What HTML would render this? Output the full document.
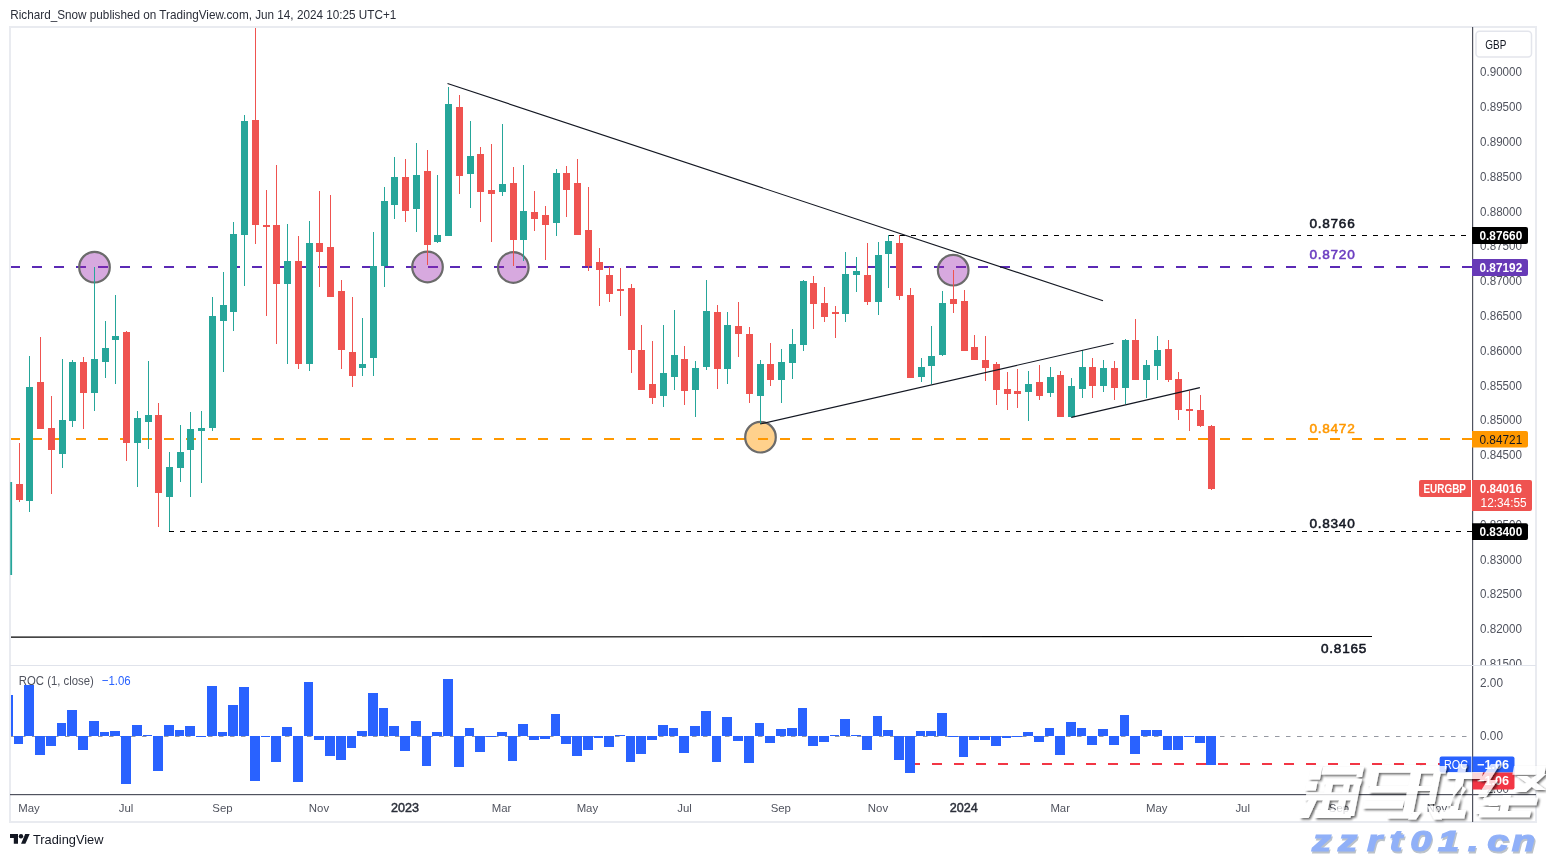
<!DOCTYPE html>
<html><head><meta charset="utf-8"><style>
html,body{margin:0;padding:0;background:#fff;width:1546px;height:857px;overflow:hidden}
svg{display:block;will-change:transform}
text{font-family:"Liberation Sans",sans-serif}
</style></head><body>
<svg width="1546" height="857" viewBox="0 0 1546 857" font-family="Liberation Sans, sans-serif">
<rect width="1546" height="857" fill="#ffffff"/>
<text x="10.3" y="18.8" font-size="12.6" fill="#2a2e39" font-weight="normal" text-anchor="start" textLength="386" lengthAdjust="spacingAndGlyphs" >Richard_Snow published on TradingView.com, Jun 14, 2024 10:25 UTC+1</text>
<rect x="10" y="27" width="1526" height="795" fill="none" stroke="#e9ebf0" stroke-width="2"/>
<defs><clipPath id="mp"><rect x="11" y="28" width="1461" height="637"/></clipPath><clipPath id="rp"><rect x="11" y="666" width="1461" height="128"/></clipPath></defs>
<g clip-path="url(#mp)">
<line x1="10" y1="267" x2="1472" y2="267" stroke="#5b2ab5" stroke-width="2" stroke-dasharray="10 12"/>
<line x1="10" y1="439" x2="1472" y2="439" stroke="#ff9800" stroke-width="2" stroke-dasharray="10 12"/>
<line x1="889" y1="235.5" x2="1472" y2="235.5" stroke="#000" stroke-width="1.1" stroke-dasharray="5 6"/>
<line x1="169" y1="531.5" x2="1472" y2="531.5" stroke="#000" stroke-width="1.1" stroke-dasharray="5 6"/>
<line x1="10" y1="637.1" x2="1372" y2="636.5" stroke="#000" stroke-width="1.15"/>
<circle cx="94.5" cy="267.2" r="15.3" fill="rgba(156,39,176,0.4)" stroke="#6b6b6b" stroke-width="2.2"/>
<circle cx="427.5" cy="267" r="15.3" fill="rgba(156,39,176,0.4)" stroke="#6b6b6b" stroke-width="2.2"/>
<circle cx="513.3" cy="267.5" r="15.3" fill="rgba(156,39,176,0.4)" stroke="#6b6b6b" stroke-width="2.2"/>
<circle cx="953.2" cy="270.2" r="15.3" fill="rgba(156,39,176,0.4)" stroke="#6b6b6b" stroke-width="2.2"/>
<circle cx="760.5" cy="437.2" r="15.3" fill="rgba(255,152,0,0.45)" stroke="#6b6b6b" stroke-width="2.2"/>
<rect x="19" y="443" width="1" height="59" fill="#ef5350"/>
<rect x="16" y="484" width="7" height="16" fill="#ef5350"/>
<rect x="29" y="356" width="1" height="156" fill="#26a69a"/>
<rect x="26" y="387" width="7" height="114" fill="#26a69a"/>
<rect x="40" y="337" width="1" height="92" fill="#ef5350"/>
<rect x="37" y="382" width="7" height="47" fill="#ef5350"/>
<rect x="51" y="396" width="1" height="98" fill="#ef5350"/>
<rect x="48" y="428" width="7" height="22" fill="#ef5350"/>
<rect x="62" y="359" width="1" height="109" fill="#26a69a"/>
<rect x="59" y="420" width="7" height="34" fill="#26a69a"/>
<rect x="72" y="360" width="1" height="67" fill="#26a69a"/>
<rect x="69" y="362" width="7" height="59" fill="#26a69a"/>
<rect x="83" y="357" width="1" height="72" fill="#ef5350"/>
<rect x="80" y="362" width="7" height="31" fill="#ef5350"/>
<rect x="94" y="267" width="1" height="144" fill="#26a69a"/>
<rect x="91" y="359" width="7" height="34" fill="#26a69a"/>
<rect x="105" y="321" width="1" height="57" fill="#26a69a"/>
<rect x="102" y="348" width="7" height="14" fill="#26a69a"/>
<rect x="115" y="295" width="1" height="89" fill="#26a69a"/>
<rect x="112" y="336" width="7" height="4" fill="#26a69a"/>
<rect x="126" y="331" width="1" height="130" fill="#ef5350"/>
<rect x="123" y="332" width="7" height="111" fill="#ef5350"/>
<rect x="137" y="411" width="1" height="76" fill="#26a69a"/>
<rect x="134" y="418" width="7" height="25" fill="#26a69a"/>
<rect x="148" y="361" width="1" height="88" fill="#26a69a"/>
<rect x="145" y="415" width="7" height="7" fill="#26a69a"/>
<rect x="158" y="403" width="1" height="124" fill="#ef5350"/>
<rect x="155" y="415" width="7" height="78" fill="#ef5350"/>
<rect x="169" y="452" width="1" height="79" fill="#26a69a"/>
<rect x="166" y="467" width="7" height="30" fill="#26a69a"/>
<rect x="180" y="425" width="1" height="57" fill="#26a69a"/>
<rect x="177" y="452" width="7" height="16" fill="#26a69a"/>
<rect x="190" y="412" width="1" height="85" fill="#26a69a"/>
<rect x="187" y="429" width="7" height="21" fill="#26a69a"/>
<rect x="201" y="411" width="1" height="72" fill="#26a69a"/>
<rect x="198" y="428" width="7" height="3" fill="#26a69a"/>
<rect x="212" y="297" width="1" height="134" fill="#26a69a"/>
<rect x="209" y="316" width="7" height="112" fill="#26a69a"/>
<rect x="223" y="272" width="1" height="100" fill="#26a69a"/>
<rect x="220" y="305" width="7" height="16" fill="#26a69a"/>
<rect x="233" y="222" width="1" height="109" fill="#26a69a"/>
<rect x="230" y="234" width="7" height="78" fill="#26a69a"/>
<rect x="244" y="115" width="1" height="171" fill="#26a69a"/>
<rect x="241" y="121" width="7" height="114" fill="#26a69a"/>
<rect x="255" y="28" width="1" height="216" fill="#ef5350"/>
<rect x="252" y="120" width="7" height="105" fill="#ef5350"/>
<rect x="266" y="190" width="1" height="126" fill="#ef5350"/>
<rect x="263" y="225" width="7" height="2" fill="#ef5350"/>
<rect x="276" y="165" width="1" height="179" fill="#ef5350"/>
<rect x="273" y="225" width="7" height="59" fill="#ef5350"/>
<rect x="287" y="224" width="1" height="140" fill="#26a69a"/>
<rect x="284" y="261" width="7" height="23" fill="#26a69a"/>
<rect x="298" y="236" width="1" height="133" fill="#ef5350"/>
<rect x="295" y="261" width="7" height="103" fill="#ef5350"/>
<rect x="309" y="221" width="1" height="150" fill="#26a69a"/>
<rect x="306" y="243" width="7" height="121" fill="#26a69a"/>
<rect x="319" y="191" width="1" height="96" fill="#ef5350"/>
<rect x="316" y="243" width="7" height="9" fill="#ef5350"/>
<rect x="330" y="195" width="1" height="102" fill="#ef5350"/>
<rect x="327" y="247" width="7" height="50" fill="#ef5350"/>
<rect x="341" y="280" width="1" height="89" fill="#ef5350"/>
<rect x="338" y="291" width="7" height="59" fill="#ef5350"/>
<rect x="352" y="297" width="1" height="90" fill="#ef5350"/>
<rect x="349" y="352" width="7" height="24" fill="#ef5350"/>
<rect x="362" y="318" width="1" height="58" fill="#26a69a"/>
<rect x="359" y="364" width="7" height="4" fill="#26a69a"/>
<rect x="373" y="232" width="1" height="144" fill="#26a69a"/>
<rect x="370" y="266" width="7" height="92" fill="#26a69a"/>
<rect x="384" y="187" width="1" height="100" fill="#26a69a"/>
<rect x="381" y="201" width="7" height="65" fill="#26a69a"/>
<rect x="394" y="157" width="1" height="62" fill="#26a69a"/>
<rect x="391" y="177" width="7" height="28" fill="#26a69a"/>
<rect x="405" y="159" width="1" height="63" fill="#ef5350"/>
<rect x="402" y="177" width="7" height="34" fill="#ef5350"/>
<rect x="416" y="143" width="1" height="89" fill="#26a69a"/>
<rect x="413" y="175" width="7" height="34" fill="#26a69a"/>
<rect x="427" y="150" width="1" height="115" fill="#ef5350"/>
<rect x="424" y="171" width="7" height="74" fill="#ef5350"/>
<rect x="437" y="175" width="1" height="68" fill="#26a69a"/>
<rect x="434" y="235" width="7" height="7" fill="#26a69a"/>
<rect x="448" y="87" width="1" height="149" fill="#26a69a"/>
<rect x="445" y="104" width="7" height="132" fill="#26a69a"/>
<rect x="459" y="95" width="1" height="99" fill="#ef5350"/>
<rect x="456" y="107" width="7" height="69" fill="#ef5350"/>
<rect x="470" y="121" width="1" height="87" fill="#26a69a"/>
<rect x="467" y="156" width="7" height="18" fill="#26a69a"/>
<rect x="480" y="147" width="1" height="75" fill="#ef5350"/>
<rect x="477" y="154" width="7" height="38" fill="#ef5350"/>
<rect x="491" y="144" width="1" height="98" fill="#ef5350"/>
<rect x="488" y="190" width="7" height="4" fill="#ef5350"/>
<rect x="502" y="124" width="1" height="72" fill="#26a69a"/>
<rect x="499" y="184" width="7" height="8" fill="#26a69a"/>
<rect x="513" y="167" width="1" height="99" fill="#ef5350"/>
<rect x="510" y="183" width="7" height="57" fill="#ef5350"/>
<rect x="523" y="165" width="1" height="96" fill="#26a69a"/>
<rect x="520" y="211" width="7" height="29" fill="#26a69a"/>
<rect x="534" y="191" width="1" height="40" fill="#ef5350"/>
<rect x="531" y="212" width="7" height="7" fill="#ef5350"/>
<rect x="545" y="206" width="1" height="54" fill="#ef5350"/>
<rect x="542" y="215" width="7" height="10" fill="#ef5350"/>
<rect x="556" y="169" width="1" height="67" fill="#26a69a"/>
<rect x="553" y="173" width="7" height="50" fill="#26a69a"/>
<rect x="566" y="166" width="1" height="51" fill="#ef5350"/>
<rect x="563" y="173" width="7" height="17" fill="#ef5350"/>
<rect x="577" y="159" width="1" height="76" fill="#ef5350"/>
<rect x="574" y="183" width="7" height="52" fill="#ef5350"/>
<rect x="588" y="187" width="1" height="84" fill="#ef5350"/>
<rect x="585" y="230" width="7" height="36" fill="#ef5350"/>
<rect x="599" y="248" width="1" height="58" fill="#ef5350"/>
<rect x="596" y="262" width="7" height="8" fill="#ef5350"/>
<rect x="609" y="267" width="1" height="35" fill="#ef5350"/>
<rect x="606" y="275" width="7" height="19" fill="#ef5350"/>
<rect x="620" y="268" width="1" height="48" fill="#ef5350"/>
<rect x="617" y="289" width="7" height="2" fill="#ef5350"/>
<rect x="631" y="284" width="1" height="89" fill="#ef5350"/>
<rect x="628" y="288" width="7" height="62" fill="#ef5350"/>
<rect x="641" y="325" width="1" height="65" fill="#ef5350"/>
<rect x="638" y="350" width="7" height="40" fill="#ef5350"/>
<rect x="652" y="341" width="1" height="63" fill="#ef5350"/>
<rect x="649" y="384" width="7" height="14" fill="#ef5350"/>
<rect x="663" y="325" width="1" height="82" fill="#26a69a"/>
<rect x="660" y="373" width="7" height="23" fill="#26a69a"/>
<rect x="674" y="310" width="1" height="80" fill="#26a69a"/>
<rect x="671" y="355" width="7" height="22" fill="#26a69a"/>
<rect x="684" y="346" width="1" height="59" fill="#ef5350"/>
<rect x="681" y="359" width="7" height="32" fill="#ef5350"/>
<rect x="695" y="361" width="1" height="56" fill="#26a69a"/>
<rect x="692" y="368" width="7" height="22" fill="#26a69a"/>
<rect x="706" y="280" width="1" height="90" fill="#26a69a"/>
<rect x="703" y="311" width="7" height="56" fill="#26a69a"/>
<rect x="717" y="305" width="1" height="84" fill="#ef5350"/>
<rect x="714" y="312" width="7" height="57" fill="#ef5350"/>
<rect x="727" y="312" width="1" height="72" fill="#26a69a"/>
<rect x="724" y="325" width="7" height="44" fill="#26a69a"/>
<rect x="738" y="302" width="1" height="55" fill="#ef5350"/>
<rect x="735" y="326" width="7" height="8" fill="#ef5350"/>
<rect x="749" y="327" width="1" height="76" fill="#ef5350"/>
<rect x="746" y="334" width="7" height="60" fill="#ef5350"/>
<rect x="760" y="360" width="1" height="64" fill="#26a69a"/>
<rect x="757" y="364" width="7" height="32" fill="#26a69a"/>
<rect x="770" y="343" width="1" height="43" fill="#ef5350"/>
<rect x="767" y="364" width="7" height="16" fill="#ef5350"/>
<rect x="781" y="349" width="1" height="54" fill="#26a69a"/>
<rect x="778" y="362" width="7" height="18" fill="#26a69a"/>
<rect x="792" y="329" width="1" height="50" fill="#26a69a"/>
<rect x="789" y="344" width="7" height="19" fill="#26a69a"/>
<rect x="803" y="280" width="1" height="71" fill="#26a69a"/>
<rect x="800" y="281" width="7" height="64" fill="#26a69a"/>
<rect x="813" y="276" width="1" height="53" fill="#ef5350"/>
<rect x="810" y="283" width="7" height="21" fill="#ef5350"/>
<rect x="824" y="287" width="1" height="35" fill="#ef5350"/>
<rect x="821" y="303" width="7" height="14" fill="#ef5350"/>
<rect x="835" y="306" width="1" height="32" fill="#ef5350"/>
<rect x="832" y="312" width="7" height="2" fill="#ef5350"/>
<rect x="845" y="252" width="1" height="70" fill="#26a69a"/>
<rect x="842" y="274" width="7" height="40" fill="#26a69a"/>
<rect x="856" y="257" width="1" height="35" fill="#26a69a"/>
<rect x="853" y="271" width="7" height="4" fill="#26a69a"/>
<rect x="867" y="243" width="1" height="62" fill="#ef5350"/>
<rect x="864" y="275" width="7" height="27" fill="#ef5350"/>
<rect x="878" y="242" width="1" height="73" fill="#26a69a"/>
<rect x="875" y="255" width="7" height="47" fill="#26a69a"/>
<rect x="888" y="235" width="1" height="53" fill="#26a69a"/>
<rect x="885" y="241" width="7" height="13" fill="#26a69a"/>
<rect x="899" y="235" width="1" height="65" fill="#ef5350"/>
<rect x="896" y="243" width="7" height="53" fill="#ef5350"/>
<rect x="910" y="288" width="1" height="90" fill="#ef5350"/>
<rect x="907" y="295" width="7" height="83" fill="#ef5350"/>
<rect x="921" y="358" width="1" height="24" fill="#26a69a"/>
<rect x="918" y="367" width="7" height="10" fill="#26a69a"/>
<rect x="931" y="326" width="1" height="58" fill="#26a69a"/>
<rect x="928" y="356" width="7" height="10" fill="#26a69a"/>
<rect x="942" y="291" width="1" height="65" fill="#26a69a"/>
<rect x="939" y="303" width="7" height="52" fill="#26a69a"/>
<rect x="953" y="270" width="1" height="43" fill="#ef5350"/>
<rect x="950" y="299" width="7" height="5" fill="#ef5350"/>
<rect x="964" y="290" width="1" height="61" fill="#ef5350"/>
<rect x="961" y="301" width="7" height="50" fill="#ef5350"/>
<rect x="974" y="335" width="1" height="25" fill="#ef5350"/>
<rect x="971" y="347" width="7" height="13" fill="#ef5350"/>
<rect x="985" y="336" width="1" height="45" fill="#ef5350"/>
<rect x="982" y="360" width="7" height="8" fill="#ef5350"/>
<rect x="996" y="362" width="1" height="43" fill="#ef5350"/>
<rect x="993" y="364" width="7" height="26" fill="#ef5350"/>
<rect x="1007" y="372" width="1" height="38" fill="#ef5350"/>
<rect x="1004" y="389" width="7" height="5" fill="#ef5350"/>
<rect x="1017" y="369" width="1" height="39" fill="#ef5350"/>
<rect x="1014" y="391" width="7" height="3" fill="#ef5350"/>
<rect x="1028" y="371" width="1" height="50" fill="#26a69a"/>
<rect x="1025" y="384" width="7" height="8" fill="#26a69a"/>
<rect x="1039" y="365" width="1" height="35" fill="#ef5350"/>
<rect x="1036" y="382" width="7" height="14" fill="#ef5350"/>
<rect x="1050" y="367" width="1" height="30" fill="#26a69a"/>
<rect x="1047" y="377" width="7" height="16" fill="#26a69a"/>
<rect x="1060" y="371" width="1" height="46" fill="#ef5350"/>
<rect x="1057" y="375" width="7" height="42" fill="#ef5350"/>
<rect x="1071" y="378" width="1" height="40" fill="#26a69a"/>
<rect x="1068" y="386" width="7" height="31" fill="#26a69a"/>
<rect x="1082" y="350" width="1" height="48" fill="#26a69a"/>
<rect x="1079" y="367" width="7" height="22" fill="#26a69a"/>
<rect x="1092" y="358" width="1" height="40" fill="#ef5350"/>
<rect x="1089" y="367" width="7" height="19" fill="#ef5350"/>
<rect x="1103" y="360" width="1" height="32" fill="#26a69a"/>
<rect x="1100" y="368" width="7" height="18" fill="#26a69a"/>
<rect x="1114" y="361" width="1" height="39" fill="#ef5350"/>
<rect x="1111" y="368" width="7" height="20" fill="#ef5350"/>
<rect x="1125" y="339" width="1" height="65" fill="#26a69a"/>
<rect x="1122" y="340" width="7" height="48" fill="#26a69a"/>
<rect x="1135" y="319" width="1" height="61" fill="#ef5350"/>
<rect x="1132" y="340" width="7" height="40" fill="#ef5350"/>
<rect x="1146" y="360" width="1" height="38" fill="#26a69a"/>
<rect x="1143" y="365" width="7" height="15" fill="#26a69a"/>
<rect x="1157" y="336" width="1" height="44" fill="#26a69a"/>
<rect x="1154" y="350" width="7" height="16" fill="#26a69a"/>
<rect x="1168" y="340" width="1" height="42" fill="#ef5350"/>
<rect x="1165" y="349" width="7" height="31" fill="#ef5350"/>
<rect x="1178" y="372" width="1" height="48" fill="#ef5350"/>
<rect x="1175" y="379" width="7" height="31" fill="#ef5350"/>
<rect x="1189" y="391" width="1" height="40" fill="#ef5350"/>
<rect x="1186" y="409" width="7" height="2" fill="#ef5350"/>
<rect x="1200" y="395" width="1" height="32" fill="#ef5350"/>
<rect x="1197" y="410" width="7" height="16" fill="#ef5350"/>
<rect x="1211" y="425" width="1" height="65" fill="#ef5350"/>
<rect x="1208" y="426" width="7" height="63" fill="#ef5350"/>
<line x1="447.5" y1="83.5" x2="1103" y2="300.8" stroke="#131722" stroke-width="1.15"/>
<line x1="760.2" y1="424" x2="1113.5" y2="343.2" stroke="#131722" stroke-width="1.15"/>
<line x1="1071.5" y1="417.4" x2="1199.9" y2="387.6" stroke="#131722" stroke-width="1.15"/>
</g>
<rect x="10.3" y="482" width="1.8" height="93" fill="#26a69a"/>
<text x="1309.4" y="227.8" font-size="13.6" fill="#131722" stroke="#131722" stroke-width="0.55" textLength="45.3" lengthAdjust="spacing">0.8766</text>
<text x="1309.4" y="259.1" font-size="13.6" fill="#6a3cc0" stroke="#6a3cc0" stroke-width="0.55" textLength="45.3" lengthAdjust="spacing">0.8720</text>
<text x="1309.4" y="433.2" font-size="13.6" fill="#ff9800" stroke="#ff9800" stroke-width="0.55" textLength="45.3" lengthAdjust="spacing">0.8472</text>
<text x="1309.4" y="527.8" font-size="13.6" fill="#131722" stroke="#131722" stroke-width="0.55" textLength="45.3" lengthAdjust="spacing">0.8340</text>
<text x="1321" y="653.1" font-size="13.6" fill="#131722" stroke="#131722" stroke-width="0.55" textLength="45.3" lengthAdjust="spacing">0.8165</text>
<g clip-path="url(#rp)">
<line x1="10" y1="736.5" x2="1472" y2="736.5" stroke="#9598a1" stroke-width="1" stroke-dasharray="4.5 6.5"/>
<line x1="910" y1="764" x2="1472" y2="764" stroke="#f23645" stroke-width="2" stroke-dasharray="10 12"/>
<rect x="10" y="695" width="3" height="41" fill="#2962ff"/>
<rect x="14" y="736" width="9" height="8" fill="#2962ff"/>
<rect x="24" y="685" width="10" height="51" fill="#2962ff"/>
<rect x="35" y="736" width="10" height="19" fill="#2962ff"/>
<rect x="46" y="736" width="10" height="10" fill="#2962ff"/>
<rect x="57" y="723" width="9" height="13" fill="#2962ff"/>
<rect x="67" y="710" width="10" height="26" fill="#2962ff"/>
<rect x="78" y="736" width="10" height="14" fill="#2962ff"/>
<rect x="89" y="721" width="10" height="15" fill="#2962ff"/>
<rect x="100" y="732" width="9" height="4" fill="#2962ff"/>
<rect x="110" y="731" width="10" height="5" fill="#2962ff"/>
<rect x="121" y="736" width="10" height="48" fill="#2962ff"/>
<rect x="132" y="725" width="10" height="11" fill="#2962ff"/>
<rect x="143" y="735" width="9" height="1" fill="#2962ff"/>
<rect x="153" y="736" width="10" height="35" fill="#2962ff"/>
<rect x="164" y="725" width="10" height="11" fill="#2962ff"/>
<rect x="175" y="730" width="9" height="6" fill="#2962ff"/>
<rect x="185" y="726" width="10" height="10" fill="#2962ff"/>
<rect x="196" y="736" width="10" height="1" fill="#2962ff"/>
<rect x="207" y="686" width="10" height="50" fill="#2962ff"/>
<rect x="218" y="732" width="9" height="4" fill="#2962ff"/>
<rect x="228" y="705" width="10" height="31" fill="#2962ff"/>
<rect x="239" y="687" width="10" height="49" fill="#2962ff"/>
<rect x="250" y="736" width="10" height="45" fill="#2962ff"/>
<rect x="261" y="736" width="9" height="1" fill="#2962ff"/>
<rect x="271" y="736" width="10" height="26" fill="#2962ff"/>
<rect x="282" y="727" width="10" height="9" fill="#2962ff"/>
<rect x="293" y="736" width="10" height="46" fill="#2962ff"/>
<rect x="304" y="682" width="9" height="54" fill="#2962ff"/>
<rect x="314" y="736" width="10" height="4" fill="#2962ff"/>
<rect x="325" y="736" width="10" height="20" fill="#2962ff"/>
<rect x="336" y="736" width="10" height="24" fill="#2962ff"/>
<rect x="347" y="736" width="9" height="12" fill="#2962ff"/>
<rect x="357" y="731" width="10" height="5" fill="#2962ff"/>
<rect x="368" y="693" width="10" height="43" fill="#2962ff"/>
<rect x="379" y="708" width="9" height="28" fill="#2962ff"/>
<rect x="389" y="726" width="10" height="10" fill="#2962ff"/>
<rect x="400" y="736" width="10" height="15" fill="#2962ff"/>
<rect x="411" y="721" width="10" height="15" fill="#2962ff"/>
<rect x="422" y="736" width="9" height="30" fill="#2962ff"/>
<rect x="432" y="732" width="10" height="4" fill="#2962ff"/>
<rect x="443" y="679" width="10" height="57" fill="#2962ff"/>
<rect x="454" y="736" width="10" height="31" fill="#2962ff"/>
<rect x="465" y="728" width="9" height="8" fill="#2962ff"/>
<rect x="475" y="736" width="10" height="16" fill="#2962ff"/>
<rect x="486" y="736" width="10" height="1" fill="#2962ff"/>
<rect x="497" y="732" width="10" height="4" fill="#2962ff"/>
<rect x="508" y="736" width="9" height="25" fill="#2962ff"/>
<rect x="518" y="724" width="10" height="12" fill="#2962ff"/>
<rect x="529" y="736" width="10" height="4" fill="#2962ff"/>
<rect x="540" y="736" width="10" height="3" fill="#2962ff"/>
<rect x="551" y="714" width="9" height="22" fill="#2962ff"/>
<rect x="561" y="736" width="10" height="8" fill="#2962ff"/>
<rect x="572" y="736" width="10" height="20" fill="#2962ff"/>
<rect x="583" y="736" width="10" height="14" fill="#2962ff"/>
<rect x="594" y="736" width="9" height="2" fill="#2962ff"/>
<rect x="604" y="736" width="10" height="11" fill="#2962ff"/>
<rect x="615" y="735" width="10" height="1" fill="#2962ff"/>
<rect x="626" y="736" width="9" height="26" fill="#2962ff"/>
<rect x="636" y="736" width="10" height="18" fill="#2962ff"/>
<rect x="647" y="736" width="10" height="4" fill="#2962ff"/>
<rect x="658" y="725" width="10" height="11" fill="#2962ff"/>
<rect x="669" y="728" width="9" height="8" fill="#2962ff"/>
<rect x="679" y="736" width="10" height="17" fill="#2962ff"/>
<rect x="690" y="726" width="10" height="10" fill="#2962ff"/>
<rect x="701" y="711" width="10" height="25" fill="#2962ff"/>
<rect x="712" y="736" width="9" height="26" fill="#2962ff"/>
<rect x="722" y="717" width="10" height="19" fill="#2962ff"/>
<rect x="733" y="736" width="10" height="5" fill="#2962ff"/>
<rect x="744" y="736" width="10" height="27" fill="#2962ff"/>
<rect x="755" y="723" width="9" height="13" fill="#2962ff"/>
<rect x="765" y="736" width="10" height="7" fill="#2962ff"/>
<rect x="776" y="729" width="10" height="7" fill="#2962ff"/>
<rect x="787" y="728" width="10" height="8" fill="#2962ff"/>
<rect x="798" y="708" width="9" height="28" fill="#2962ff"/>
<rect x="808" y="736" width="10" height="10" fill="#2962ff"/>
<rect x="819" y="736" width="10" height="6" fill="#2962ff"/>
<rect x="830" y="735" width="9" height="1" fill="#2962ff"/>
<rect x="840" y="719" width="10" height="17" fill="#2962ff"/>
<rect x="851" y="735" width="10" height="1" fill="#2962ff"/>
<rect x="862" y="736" width="10" height="14" fill="#2962ff"/>
<rect x="873" y="716" width="9" height="20" fill="#2962ff"/>
<rect x="883" y="730" width="10" height="6" fill="#2962ff"/>
<rect x="894" y="736" width="10" height="24" fill="#2962ff"/>
<rect x="905" y="736" width="10" height="37" fill="#2962ff"/>
<rect x="916" y="731" width="9" height="5" fill="#2962ff"/>
<rect x="926" y="731" width="10" height="5" fill="#2962ff"/>
<rect x="937" y="713" width="10" height="23" fill="#2962ff"/>
<rect x="948" y="736" width="10" height="1" fill="#2962ff"/>
<rect x="959" y="736" width="9" height="21" fill="#2962ff"/>
<rect x="969" y="736" width="10" height="4" fill="#2962ff"/>
<rect x="980" y="736" width="10" height="4" fill="#2962ff"/>
<rect x="991" y="736" width="10" height="10" fill="#2962ff"/>
<rect x="1002" y="736" width="9" height="2" fill="#2962ff"/>
<rect x="1012" y="736" width="10" height="1" fill="#2962ff"/>
<rect x="1023" y="732" width="10" height="4" fill="#2962ff"/>
<rect x="1034" y="736" width="10" height="6" fill="#2962ff"/>
<rect x="1045" y="728" width="9" height="8" fill="#2962ff"/>
<rect x="1055" y="736" width="10" height="19" fill="#2962ff"/>
<rect x="1066" y="722" width="10" height="14" fill="#2962ff"/>
<rect x="1077" y="728" width="9" height="8" fill="#2962ff"/>
<rect x="1087" y="736" width="10" height="9" fill="#2962ff"/>
<rect x="1098" y="729" width="10" height="7" fill="#2962ff"/>
<rect x="1109" y="736" width="10" height="9" fill="#2962ff"/>
<rect x="1120" y="715" width="9" height="21" fill="#2962ff"/>
<rect x="1130" y="736" width="10" height="18" fill="#2962ff"/>
<rect x="1141" y="730" width="10" height="6" fill="#2962ff"/>
<rect x="1152" y="730" width="10" height="6" fill="#2962ff"/>
<rect x="1163" y="736" width="9" height="14" fill="#2962ff"/>
<rect x="1173" y="736" width="10" height="14" fill="#2962ff"/>
<rect x="1184" y="736" width="10" height="1" fill="#2962ff"/>
<rect x="1195" y="736" width="10" height="7" fill="#2962ff"/>
<rect x="1206" y="736" width="10" height="29" fill="#2962ff"/>
</g>
<text x="18.8" y="685" font-size="12.8" fill="#50535e" font-weight="normal" text-anchor="start" textLength="75" lengthAdjust="spacingAndGlyphs" >ROC (1, close)</text>
<text x="101.7" y="685" font-size="12.8" fill="#2962ff" font-weight="normal" text-anchor="start" textLength="29" lengthAdjust="spacingAndGlyphs" >−1.06</text>
<rect x="10" y="794" width="1526" height="1.2" fill="#50535e"/>
<rect x="1472" y="27" width="1.2" height="795" fill="#50535e"/>
<rect x="10" y="665" width="1526" height="1" fill="#e0e3eb"/>
<defs><clipPath id="pa"><rect x="1473" y="27" width="63" height="638"/></clipPath></defs><g clip-path="url(#pa)">
<text x="1480" y="76.3" font-size="12" fill="#50535e" font-weight="normal" text-anchor="start" textLength="42" lengthAdjust="spacingAndGlyphs" >0.90000</text>
<text x="1480" y="111.1" font-size="12" fill="#50535e" font-weight="normal" text-anchor="start" textLength="42" lengthAdjust="spacingAndGlyphs" >0.89500</text>
<text x="1480" y="145.9" font-size="12" fill="#50535e" font-weight="normal" text-anchor="start" textLength="42" lengthAdjust="spacingAndGlyphs" >0.89000</text>
<text x="1480" y="180.7" font-size="12" fill="#50535e" font-weight="normal" text-anchor="start" textLength="42" lengthAdjust="spacingAndGlyphs" >0.88500</text>
<text x="1480" y="215.5" font-size="12" fill="#50535e" font-weight="normal" text-anchor="start" textLength="42" lengthAdjust="spacingAndGlyphs" >0.88000</text>
<text x="1480" y="250.3" font-size="12" fill="#50535e" font-weight="normal" text-anchor="start" textLength="42" lengthAdjust="spacingAndGlyphs" >0.87500</text>
<text x="1480" y="285.09999999999997" font-size="12" fill="#50535e" font-weight="normal" text-anchor="start" textLength="42" lengthAdjust="spacingAndGlyphs" >0.87000</text>
<text x="1480" y="319.9" font-size="12" fill="#50535e" font-weight="normal" text-anchor="start" textLength="42" lengthAdjust="spacingAndGlyphs" >0.86500</text>
<text x="1480" y="354.7" font-size="12" fill="#50535e" font-weight="normal" text-anchor="start" textLength="42" lengthAdjust="spacingAndGlyphs" >0.86000</text>
<text x="1480" y="389.5" font-size="12" fill="#50535e" font-weight="normal" text-anchor="start" textLength="42" lengthAdjust="spacingAndGlyphs" >0.85500</text>
<text x="1480" y="424.3" font-size="12" fill="#50535e" font-weight="normal" text-anchor="start" textLength="42" lengthAdjust="spacingAndGlyphs" >0.85000</text>
<text x="1480" y="459.09999999999997" font-size="12" fill="#50535e" font-weight="normal" text-anchor="start" textLength="42" lengthAdjust="spacingAndGlyphs" >0.84500</text>
<text x="1480" y="493.9" font-size="12" fill="#50535e" font-weight="normal" text-anchor="start" textLength="42" lengthAdjust="spacingAndGlyphs" >0.84000</text>
<text x="1480" y="528.6999999999999" font-size="12" fill="#50535e" font-weight="normal" text-anchor="start" textLength="42" lengthAdjust="spacingAndGlyphs" >0.83500</text>
<text x="1480" y="563.4999999999999" font-size="12" fill="#50535e" font-weight="normal" text-anchor="start" textLength="42" lengthAdjust="spacingAndGlyphs" >0.83000</text>
<text x="1480" y="598.3" font-size="12" fill="#50535e" font-weight="normal" text-anchor="start" textLength="42" lengthAdjust="spacingAndGlyphs" >0.82500</text>
<text x="1480" y="633.0999999999999" font-size="12" fill="#50535e" font-weight="normal" text-anchor="start" textLength="42" lengthAdjust="spacingAndGlyphs" >0.82000</text>
<text x="1480" y="667.8999999999999" font-size="12" fill="#50535e" font-weight="normal" text-anchor="start" textLength="42" lengthAdjust="spacingAndGlyphs" >0.81500</text>
</g>
<text x="1480" y="686.6" font-size="12" fill="#50535e" font-weight="normal" text-anchor="start" textLength="23" lengthAdjust="spacingAndGlyphs" >2.00</text>
<text x="1480" y="739.8" font-size="12" fill="#50535e" font-weight="normal" text-anchor="start" textLength="23" lengthAdjust="spacingAndGlyphs" >0.00</text>
<text x="1480" y="793" font-size="12" fill="#50535e" font-weight="normal" text-anchor="start" textLength="29" lengthAdjust="spacingAndGlyphs" >−2.00</text>
<rect x="1476" y="31.2" width="55.5" height="25.8" rx="3.5" fill="#fff" stroke="#e3e5ec" stroke-width="1.5"/>
<text x="1485.3" y="49" font-size="12" fill="#131722" font-weight="normal" text-anchor="start" textLength="21" lengthAdjust="spacingAndGlyphs" >GBP</text>
<path d="M1472 227 H1526 Q1528 227 1528 229 V242 Q1528 244 1526 244 H1472 Z" fill="#000000"/>
<text x="1479.5" y="239.9" font-size="12.5" fill="#fff" font-weight="bold" text-anchor="start" textLength="42.7" lengthAdjust="spacingAndGlyphs" >0.87660</text>
<path d="M1472 259 H1526 Q1528 259 1528 261 V274 Q1528 276 1526 276 H1472 Z" fill="#673ab7"/>
<text x="1479.5" y="271.9" font-size="12.5" fill="#fff" font-weight="bold" text-anchor="start" textLength="42.7" lengthAdjust="spacingAndGlyphs" >0.87192</text>
<path d="M1472 431 H1526 Q1528 431 1528 433 V445.5 Q1528 447.5 1526 447.5 H1472 Z" fill="#ff9800"/>
<text x="1479.5" y="443.65" font-size="12.5" fill="#131722" font-weight="normal" text-anchor="start" textLength="42.7" lengthAdjust="spacingAndGlyphs" >0.84721</text>
<path d="M1472 523.3 H1526 Q1528 523.3 1528 525.3 V538 Q1528 540 1526 540 H1472 Z" fill="#000000"/>
<text x="1479.5" y="536.05" font-size="12.5" fill="#fff" font-weight="bold" text-anchor="start" textLength="42.7" lengthAdjust="spacingAndGlyphs" >0.83400</text>
<path d="M1472 480 H1530 Q1532 480 1532 482 V509 Q1532 511 1530 511 H1472 Z" fill="#ef5350"/>
<text x="1479.8" y="492.9" font-size="12.5" fill="#fff" font-weight="bold" text-anchor="start" textLength="42.1" lengthAdjust="spacingAndGlyphs" >0.84016</text>
<text x="1480.6" y="507" font-size="12.5" fill="#fff" font-weight="normal" text-anchor="start" textLength="46" lengthAdjust="spacingAndGlyphs" >12:34:55</text>
<path d="M1471 480 H1421 Q1419 480 1419 482 V495 Q1419 497 1421 497 H1471 Z" fill="#ef5350"/>
<text x="1423.5" y="492.9" font-size="12" fill="#fff" font-weight="bold" text-anchor="start" textLength="42.4" lengthAdjust="spacingAndGlyphs" >EURGBP</text>
<path d="M1439.6 756.6 H1471.4 V772.5 H1441.6 Q1439.6 772.5 1439.6 770.5 V758.6 Q1439.6 756.6 1441.6 756.6 Z" fill="#2962ff"/>
<text x="1444" y="768.6" font-size="12" fill="#fff" font-weight="normal" text-anchor="start" textLength="24" lengthAdjust="spacingAndGlyphs" >ROC</text>
<path d="M1472.5 756.6 H1512.5 Q1514.5 756.6 1514.5 758.6 V772.5 H1472.5 Z" fill="#2962ff"/>
<text x="1477" y="768.6" font-size="12.5" fill="#fff" font-weight="bold" text-anchor="start" textLength="32" lengthAdjust="spacingAndGlyphs" >−1.06</text>
<path d="M1472.5 772.5 H1514.5 V787.4 Q1514.5 789.4 1512.5 789.4 H1472.5 Z" fill="#f23645"/>
<text x="1477" y="785" font-size="12.5" fill="#fff" font-weight="bold" text-anchor="start" textLength="32" lengthAdjust="spacingAndGlyphs" >−1.06</text>
<text x="29" y="811.8" font-size="11.4" fill="#50535e" font-weight="normal" text-anchor="middle" >May</text>
<text x="126" y="811.8" font-size="11.4" fill="#50535e" font-weight="normal" text-anchor="middle" >Jul</text>
<text x="222.5" y="811.8" font-size="11.4" fill="#50535e" font-weight="normal" text-anchor="middle" >Sep</text>
<text x="319" y="811.8" font-size="11.4" fill="#50535e" font-weight="normal" text-anchor="middle" >Nov</text>
<text x="405" y="811.8" font-size="12.6" fill="#2a2e39" stroke="#2a2e39" stroke-width="0.45" text-anchor="middle">2023</text>
<text x="501.5" y="811.8" font-size="11.4" fill="#50535e" font-weight="normal" text-anchor="middle" >Mar</text>
<text x="587.4" y="811.8" font-size="11.4" fill="#50535e" font-weight="normal" text-anchor="middle" >May</text>
<text x="684.5" y="811.8" font-size="11.4" fill="#50535e" font-weight="normal" text-anchor="middle" >Jul</text>
<text x="780.8" y="811.8" font-size="11.4" fill="#50535e" font-weight="normal" text-anchor="middle" >Sep</text>
<text x="878" y="811.8" font-size="11.4" fill="#50535e" font-weight="normal" text-anchor="middle" >Nov</text>
<text x="963.7" y="811.8" font-size="12.6" fill="#2a2e39" stroke="#2a2e39" stroke-width="0.45" text-anchor="middle">2024</text>
<text x="1060.2" y="811.8" font-size="11.4" fill="#50535e" font-weight="normal" text-anchor="middle" >Mar</text>
<text x="1156.8" y="811.8" font-size="11.4" fill="#50535e" font-weight="normal" text-anchor="middle" >May</text>
<text x="1242.7" y="811.8" font-size="11.4" fill="#50535e" font-weight="normal" text-anchor="middle" >Jul</text>
<text x="1339" y="811.8" font-size="11.4" fill="#50535e" font-weight="normal" text-anchor="middle" >Sep</text>
<text x="1437" y="811.8" font-size="11.4" fill="#50535e" font-weight="normal" text-anchor="middle" >Nov</text>
<path d="M10 834 H18 V843.7 H13.8 V838 H10 Z" fill="#131722"/>
<circle cx="21" cy="836.3" r="2.2" fill="#131722"/>
<path d="M25.2 834 H29.7 L25.4 843.7 H21.1 Z" fill="#131722"/>
<text x="33" y="843.7" font-size="12.8" fill="#131722" font-weight="normal" text-anchor="start" textLength="70.5" lengthAdjust="spacingAndGlyphs" >TradingView</text>
<defs><filter id="ds" x="-5%" y="-20%" width="110%" height="140%"><feDropShadow dx="1.8" dy="1.6" stdDeviation="0.9" flood-color="#000" flood-opacity="0.75"/></filter></defs>
<g filter="url(#ds)" opacity="0.8"><path fill="#ffffff" d="M1311.0 766.5L1322.5 766.5L1319.9 779.5L1308.4 779.5Z M1306.5 781.7L1317.5 781.7L1315.8 790.4L1304.8 790.4Z M1310 797.6 L1318 797.6 L1308.6 818 L1299 818Z M1323.0 767L1364.0 767L1362.5 774.5L1321.5 774.5Z M1325.0 779L1362.0 779L1360.9 784.5L1323.9 784.5Z M1357.0 774.5L1362.5 774.5L1362.0 777L1356.5 777Z M1355.0 779L1361.5 779L1354.1 816L1347.6 816Z M1326.0 784L1333.0 784L1327.4 812L1320.4 812Z M1306.5 792.6L1358.0 792.6L1356.5 800.2L1305.0 800.2Z M1316.0 810L1352.0 810L1350.4 818L1314.4 818Z M1344.0 784L1350.0 784L1348.3 792.6L1342.3 792.6Z M1339.0 800L1346.0 800L1344.0 810L1337.0 810Z M1374.0 765L1420.0 765L1418.5 772.7L1372.5 772.7Z M1371.0 772L1379.0 772L1376.2 786L1368.2 786Z M1370.0 786L1412.0 786L1410.7 792.5L1368.7 792.5Z M1411.0 772L1419.5 772L1411.3 813L1402.8 813Z M1364.0 801L1404.0 801L1402.5 808.5L1362.5 808.5Z M1388.0 812.5L1412.0 812.5L1410.8 818.6L1386.8 818.6Z M1416.0 766L1447.0 766L1445.5 773.5L1414.5 773.5Z M1414.0 772L1421.5 772L1413.3 813L1405.8 813Z M1434.0 772L1441.0 772L1434.6 804L1427.6 804Z M1418.0 786L1438.0 786L1437.0 791L1417.0 791Z M1413 812 L1421 812 L1416 819.5 L1408 819.5Z M1427 806 L1435 806 L1442 819.5 L1434 819.5Z M1448.0 772L1483.0 772L1481.6 779L1446.6 779Z M1459.0 764L1467.0 764L1456.6 816L1448.6 816Z M1440.0 810L1466.0 810L1464.3 818.5L1438.3 818.5Z M1446 806 L1454 806 L1466 789 L1462 786Z M1491 764 L1500 764 L1490 780 L1498 780 L1486 797 L1477 797 L1487 781 L1479 781Z M1477.0 807L1499.0 807L1497.6 814L1475.6 814Z M1483 798 L1492 798 L1498 806 L1489 806Z M1514.0 766L1546.0 766L1544.3 774.7L1512.3 774.7Z M1538 774 L1546 774 L1526 792 L1514 792Z M1517 776 L1527 776 L1546 790 L1536 790Z M1484.0 797.5L1538.0 797.5L1536.4 805.3L1482.4 805.3Z M1503.0 795L1511.0 795L1507.6 812L1499.6 812Z M1480.0 811L1531.0 811L1529.7 817.3L1478.7 817.3Z"/></g>
<g opacity="1">
<g transform="translate(1322.7,852.5) scale(1.28,1)"><text x="0" y="0" font-size="30" font-weight="bold" font-style="italic" text-anchor="middle" fill="#6a7a8a" opacity="0.45" stroke="#6a7a8a" stroke-width="1.2">z</text></g>
<g transform="translate(1321.5,851.3) scale(1.28,1)"><text x="0" y="0" font-size="30" font-weight="bold" font-style="italic" text-anchor="middle" fill="#90b0f8" stroke="#90b0f8" stroke-width="1.2">z</text></g>
<g transform="translate(1348.7,852.5) scale(1.28,1)"><text x="0" y="0" font-size="30" font-weight="bold" font-style="italic" text-anchor="middle" fill="#6a7a8a" opacity="0.45" stroke="#6a7a8a" stroke-width="1.2">z</text></g>
<g transform="translate(1347.5,851.3) scale(1.28,1)"><text x="0" y="0" font-size="30" font-weight="bold" font-style="italic" text-anchor="middle" fill="#90b0f8" stroke="#90b0f8" stroke-width="1.2">z</text></g>
<g transform="translate(1375.6000000000001,852.5) scale(1.28,1)"><text x="0" y="0" font-size="30" font-weight="bold" font-style="italic" text-anchor="middle" fill="#6a7a8a" opacity="0.45" stroke="#6a7a8a" stroke-width="1.2">r</text></g>
<g transform="translate(1374.4,851.3) scale(1.28,1)"><text x="0" y="0" font-size="30" font-weight="bold" font-style="italic" text-anchor="middle" fill="#90b0f8" stroke="#90b0f8" stroke-width="1.2">r</text></g>
<g transform="translate(1397.2,852.5) scale(1.28,1)"><text x="0" y="0" font-size="30" font-weight="bold" font-style="italic" text-anchor="middle" fill="#6a7a8a" opacity="0.45" stroke="#6a7a8a" stroke-width="1.2">t</text></g>
<g transform="translate(1396,851.3) scale(1.28,1)"><text x="0" y="0" font-size="30" font-weight="bold" font-style="italic" text-anchor="middle" fill="#90b0f8" stroke="#90b0f8" stroke-width="1.2">t</text></g>
<g transform="translate(1422.0,852.5) scale(1.28,1)"><text x="0" y="0" font-size="30" font-weight="bold" font-style="italic" text-anchor="middle" fill="#6a7a8a" opacity="0.45" stroke="#6a7a8a" stroke-width="1.2">0</text></g>
<g transform="translate(1420.8,851.3) scale(1.28,1)"><text x="0" y="0" font-size="30" font-weight="bold" font-style="italic" text-anchor="middle" fill="#90b0f8" stroke="#90b0f8" stroke-width="1.2">0</text></g>
<g transform="translate(1449.6000000000001,852.5) scale(1.28,1)"><text x="0" y="0" font-size="30" font-weight="bold" font-style="italic" text-anchor="middle" fill="#6a7a8a" opacity="0.45" stroke="#6a7a8a" stroke-width="1.2">1</text></g>
<g transform="translate(1448.4,851.3) scale(1.28,1)"><text x="0" y="0" font-size="30" font-weight="bold" font-style="italic" text-anchor="middle" fill="#90b0f8" stroke="#90b0f8" stroke-width="1.2">1</text></g>
<g transform="translate(1474.2,852.5) scale(1.28,1)"><text x="0" y="0" font-size="30" font-weight="bold" font-style="italic" text-anchor="middle" fill="#6a7a8a" opacity="0.45" stroke="#6a7a8a" stroke-width="1.2">.</text></g>
<g transform="translate(1473,851.3) scale(1.28,1)"><text x="0" y="0" font-size="30" font-weight="bold" font-style="italic" text-anchor="middle" fill="#90b0f8" stroke="#90b0f8" stroke-width="1.2">.</text></g>
<g transform="translate(1499.0,852.5) scale(1.28,1)"><text x="0" y="0" font-size="30" font-weight="bold" font-style="italic" text-anchor="middle" fill="#6a7a8a" opacity="0.45" stroke="#6a7a8a" stroke-width="1.2">c</text></g>
<g transform="translate(1497.8,851.3) scale(1.28,1)"><text x="0" y="0" font-size="30" font-weight="bold" font-style="italic" text-anchor="middle" fill="#90b0f8" stroke="#90b0f8" stroke-width="1.2">c</text></g>
<g transform="translate(1524.6000000000001,852.5) scale(1.28,1)"><text x="0" y="0" font-size="30" font-weight="bold" font-style="italic" text-anchor="middle" fill="#6a7a8a" opacity="0.45" stroke="#6a7a8a" stroke-width="1.2">n</text></g>
<g transform="translate(1523.4,851.3) scale(1.28,1)"><text x="0" y="0" font-size="30" font-weight="bold" font-style="italic" text-anchor="middle" fill="#90b0f8" stroke="#90b0f8" stroke-width="1.2">n</text></g>
</g>
</svg>
</body></html>
